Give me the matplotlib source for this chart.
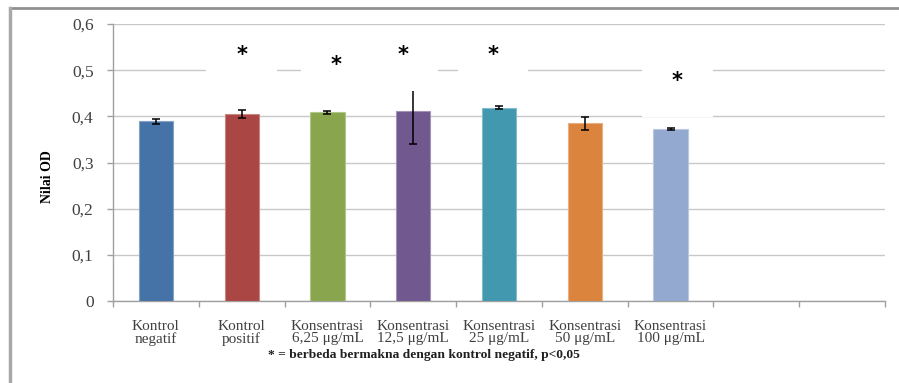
import numpy as np
import matplotlib
matplotlib.use('Agg')
import matplotlib.pyplot as plt
from matplotlib.colors import to_rgb
from matplotlib.patches import Rectangle
from matplotlib.lines import Line2D

# ── Données ──────────────────────────────────────────────
labels = [
    "Kontrol\nnegatif",
    "Kontrol\npositif",
    "Konsentrasi\n6,25 μg/mL",
    "Konsentrasi\n12,5 μg/mL",
    "Konsentrasi\n25 μg/mL",
    "Konsentrasi\n50 μg/mL",
    "Konsentrasi\n100 μg/mL",
]
n_slots = 9   # deux catégories vides à droite
od_mean = [0.389, 0.405, 0.409, 0.411, 0.419, 0.385, 0.372]
od_err = [0.005, 0.009, 0.003, 0.071, 0.003, 0.014, 0.002]
colors = ["#4572A7", "#AA4643", "#89A54E", "#71588F", "#4198AF", "#DB843D", "#93A9CF"]

# astérisques (position x en unités de catégorie, hauteur en OD)
star_x = [1.0, 2.1, 2.88, 3.93, 6.08]
star_y = [0.533, 0.511, 0.533, 0.533, 0.477]

yticks = [0, 0.1, 0.2, 0.3, 0.4, 0.5, 0.6]
ytick_labels = ["0", "0,1", "0,2", "0,3", "0,4", "0,5", "0,6"]

serif = "Liberation Serif"
grey_txt = "#404040"

def lighter(c, f=0.35):
    r, g, b = to_rgb(c)
    return (r + (1 - r) * f, g + (1 - g) * f, b + (1 - b) * f)

fig = plt.figure(figsize=(8.99, 3.83), dpi=100)
ax = fig.add_axes([0.1257, 0.2141, 0.8587, 0.7232])

x = np.arange(len(od_mean))
ax.bar(x, od_mean, width=0.40, color=colors,
       edgecolor=[lighter(c) for c in colors], linewidth=0.8, zorder=3)
ax.errorbar(x, od_mean, yerr=od_err, fmt='none', ecolor='black',
            elinewidth=1.1, capsize=3, capthick=1.1, zorder=4)

# cadres blancs des astérisques (masquent grille et barres d'erreur)
for sx, sy in zip(star_x, star_y):
    ax.add_patch(Rectangle((sx - 0.41, sy - 0.079), 0.82, 0.124,
                           facecolor='white', edgecolor='none', zorder=4.5))
    ax.text(sx, sy, "*", ha='center', va='center', fontsize=15,
            fontweight='bold', family='DejaVu Sans', color='black', zorder=5)

ax.set_xlim(-0.5, n_slots - 0.5)
ax.set_ylim(0, 0.6)
ax.set_yticks(yticks)
ax.set_yticklabels(ytick_labels, family=serif, fontsize=12.5, color=grey_txt)
ax.yaxis.grid(True, color='#c8c8c8', linewidth=1.0, zorder=0)
ax.set_axisbelow(True)

ax.set_xticks(x)
ax.set_xticklabels(labels, family=serif, fontsize=11, color=grey_txt,
                   linespacing=0.85)
ax.set_xticks(np.arange(-0.5, n_slots, 1.0), minor=True)
ax.tick_params(axis='x', which='major', length=0, pad=14)
ax.tick_params(axis='x', which='minor', length=4, color='#a0a0a0', width=1)
ax.tick_params(axis='y', length=4, color='#a0a0a0', width=1, pad=10)

for side in ['top', 'right']:
    ax.spines[side].set_visible(False)
for side in ['left', 'bottom']:
    ax.spines[side].set_color('#a0a0a0')
    ax.spines[side].set_linewidth(1.0)

ax.set_ylabel("Nilai OD", family=serif, fontsize=10, fontweight='bold')
ax.yaxis.set_label_coords(-0.077, 0.45)

fig.text(0.4716, 0.074, "* = berbeda bermakna dengan kontrol negatif, p<0,05",
         ha='center', va='center', family=serif, fontsize=9.7,
         fontweight='bold', color='#202020')

# bordure extérieure (haut et gauche)
fig.add_artist(Line2D([0.011, 1.0], [0.979, 0.979], color='#909090', linewidth=2))
fig.add_artist(Line2D([0.011, 0.011], [0.0, 0.979], color='#a8a8a8', linewidth=2.5))

fig.savefig("out.png", dpi=100)
